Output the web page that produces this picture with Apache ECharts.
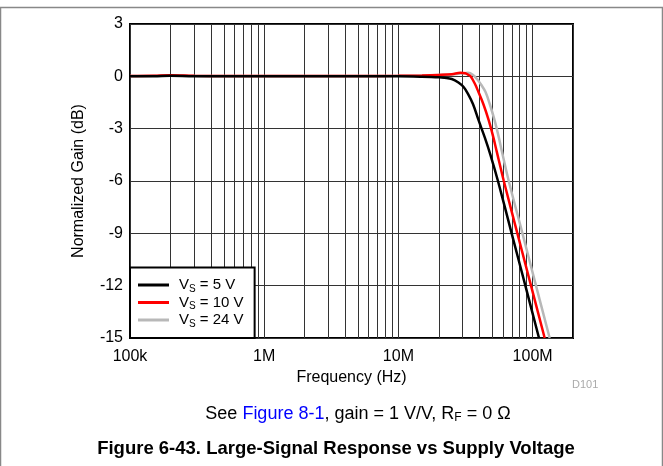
<!DOCTYPE html>
<html>
<head>
<meta charset="utf-8">
<style>
  html, body { margin: 0; padding: 0; background: #fff; }
  #chart { width: 663px; height: 466px; }
</style>
<script src="https://cdn.jsdelivr.net/npm/echarts@6/dist/echarts.min.js"></script>
</head>
<body>
<div id="chart"></div>
<script>
// ---- Data ----
const seriesNames = ['5 V', '10 V', '24 V'];
const seriesColors = ['#000000', '#ff0000', '#b8b8b8'];

const freq5 = [1e5, 1.5e5, 2e5, 3e5, 5e5, 1e6, 2e6, 5e6, 1e7, 1.5e7, 2e7, 2.2e7, 2.5e7, 2.8e7, 3.05e7, 3.3e7, 3.6e7, 3.95e7, 4.4e7, 4.85e7, 5.52e7, 6.98e7, 8.83e7, 1.116e8];
const gain5 = [0, 0, 0.04, 0, 0, 0, 0, 0, 0, -0.02, -0.05, -0.08, -0.15, -0.35, -0.6, -1.0, -1.6, -2.5, -3.5, -4.5, -6, -9, -12, -15];

const freq10 = [1e5, 1.5e5, 2e5, 3e5, 5e5, 1e6, 2e6, 5e6, 1e7, 1.5e7, 2e7, 2.5e7, 2.9e7, 3.15e7, 3.3e7, 3.45e7, 3.7e7, 3.95e7, 4.3e7, 4.7e7, 5.1e7, 5.4e7, 6.1e7, 7.7e7, 9.73e7, 1.23e8];
const gain10 = [0.02, 0.03, 0.06, 0.03, 0.02, 0.02, 0.02, 0.02, 0.03, 0.05, 0.08, 0.12, 0.2, 0.18, 0.1, 0, -0.4, -0.9, -1.6, -2.5, -3.5, -4.3, -6, -9, -12, -15];

const freq24 = [1e5, 1.5e5, 2e5, 3e5, 5e5, 1e6, 2e6, 5e6, 1e7, 1.5e7, 2e7, 2.5e7, 3e7, 3.3e7, 3.6e7, 3.89e7, 4.15e7, 4.46e7, 4.8e7, 5.2e7, 5.6e7, 5.9e7, 6.64e7, 8.4e7, 1.06e8, 1.34e8];
const gain24 = [0.02, 0.03, 0.06, 0.03, 0.02, 0.02, 0.02, 0.02, 0.03, 0.05, 0.08, 0.1, 0.17, 0.2, 0.08, -0.2, -0.5, -0.9, -1.6, -2.5, -3.5, -4.3, -6, -9, -12, -15];

const xMajorTicks = [1e5, 1e6, 1e7, 1e8];
const xTickLabels = ['100k', '1M', '10M', '100M'];
const xMinorGrid = [2e5, 3e5, 4e5, 5e5, 6e5, 7e5, 8e5, 9e5,
                    2e6, 3e6, 4e6, 5e6, 6e6, 7e6, 8e6, 9e6,
                    2e7, 3e7, 4e7, 5e7, 6e7, 7e7, 8e7, 9e7];
const yMin = -15, yMax = 3, yStep = 3;

// ---- Build ----
function zip(xs, ys) { return xs.map((x, i) => [x, ys[i]]); }
const seriesData = [zip(freq5, gain5), zip(freq10, gain10), zip(freq24, gain24)];

const chart = echarts.init(document.getElementById('chart'), null, { renderer: 'canvas' });
const FONT = 'Liberation Sans, Arial, sans-serif';
const gridColor = '#333';

const series = seriesNames.map((n, i) => ({
  name: n,
  type: 'line',
  data: seriesData[i],
  smooth: 0.35,
  showSymbol: false,
  symbol: 'none',
  z: 5 - i,
  lineStyle: { color: seriesColors[i], width: 2.5 },
  itemStyle: { color: seriesColors[i] },
  clip: true
}));
series.reverse();

series.push({
  name: 'grid-minor',
  type: 'line',
  data: [],
  silent: true,
  markLine: {
    silent: true,
    symbol: ['none', 'none'],
    z: 1,
    label: { show: false },
    lineStyle: { color: gridColor, width: 1, type: 'solid' },
    emphasis: { disabled: true },
    animation: false,
    data: xMinorGrid.map(v => ({ xAxis: v }))
  }
});

chart.setOption({
  animation: false,
  backgroundColor: '#fff',
  textStyle: { fontFamily: FONT },
  grid: {
    left: 130, right: 90, top: 24, bottom: 128,
    show: true, borderColor: '#000', borderWidth: 2, backgroundColor: 'transparent'
  },
  xAxis: {
    type: 'log', logBase: 10, min: 1e5, max: 2e8,
    name: 'Frequency (Hz)', nameLocation: 'middle', nameGap: 31,
    nameTextStyle: { color: '#000', fontSize: 16, fontFamily: FONT },
    axisLine: { show: false },
    axisTick: { show: false },
    axisLabel: {
      color: '#000', fontSize: 16, fontFamily: FONT, margin: 11,
      showMaxLabel: false,
      formatter: function (v) {
        for (let i = 0; i < xMajorTicks.length; i++) {
          if (Math.abs(v / xMajorTicks[i] - 1) < 1e-6) return xTickLabels[i];
        }
        return '';
      }
    },
    splitLine: { show: true, lineStyle: { color: gridColor, width: 1 } }
  },
  yAxis: {
    type: 'value', min: yMin, max: yMax, interval: yStep,
    name: 'Normalized Gain (dB)', nameLocation: 'middle', nameGap: 43,
    nameTextStyle: { color: '#000', fontSize: 16, fontFamily: FONT },
    axisLine: { show: false },
    axisTick: { show: false },
    axisLabel: { color: '#000', fontSize: 16, fontFamily: FONT, margin: 7 },
    splitLine: { show: true, lineStyle: { color: gridColor, width: 1 } }
  },
  legend: {
    data: seriesNames,
    orient: 'vertical',
    left: 130, bottom: 128,
    backgroundColor: '#fff',
    borderColor: '#000', borderWidth: 2,
    padding: [10, 11, 9, 8],
    itemGap: 1,
    itemWidth: 31, itemHeight: 3,
    icon: 'rect',
    selectedMode: false,
    formatter: function (name) { return '{g|}{a|V}{b|S}{a| = ' + name + '}'; },
    textStyle: {
      color: '#000', fontFamily: FONT, fontSize: 15,
      rich: {
        g: { width: 5 },
        a: { fontSize: 15, lineHeight: 18, fontFamily: FONT, color: '#000' },
        b: { fontSize: 10, lineHeight: 10, verticalAlign: 'bottom', fontFamily: FONT, color: '#000' }
      }
    }
  },
  graphic: [
    { type: 'rect', silent: true, z: -10,
      shape: { x: 0.5, y: 7.5, width: 662, height: 470 },
      style: { fill: 'none', stroke: '#888', lineWidth: 1.5 } },
    { type: 'text', left: 572, top: 379, silent: true,
      style: { text: 'D101', fill: '#aaa', font: '11px ' + FONT } },
    { type: 'text', x: 358, y: 414, silent: true,
      style: {
        text: '{n|See }{l|Figure 8-1}{n|, gain = 1 V/V, R}{s|F}{n| = 0 Ω}',
        align: 'center', verticalAlign: 'middle',
        rich: {
          n: { fontSize: 18, fontFamily: FONT, fill: '#000', lineHeight: 20 },
          l: { fontSize: 18, fontFamily: FONT, fill: '#0000ff', lineHeight: 20 },
          s: { fontSize: 12, fontFamily: FONT, fill: '#000', lineHeight: 11, verticalAlign: 'bottom' }
        }
      } },
    { type: 'text', x: 336, y: 449, silent: true,
      style: {
        text: 'Figure 6-43. Large-Signal Response vs Supply Voltage',
        align: 'center', verticalAlign: 'middle',
        fill: '#000', font: 'bold 18.5px ' + FONT
      } }
  ],
  series: series
});
</script>
</body>
</html>
